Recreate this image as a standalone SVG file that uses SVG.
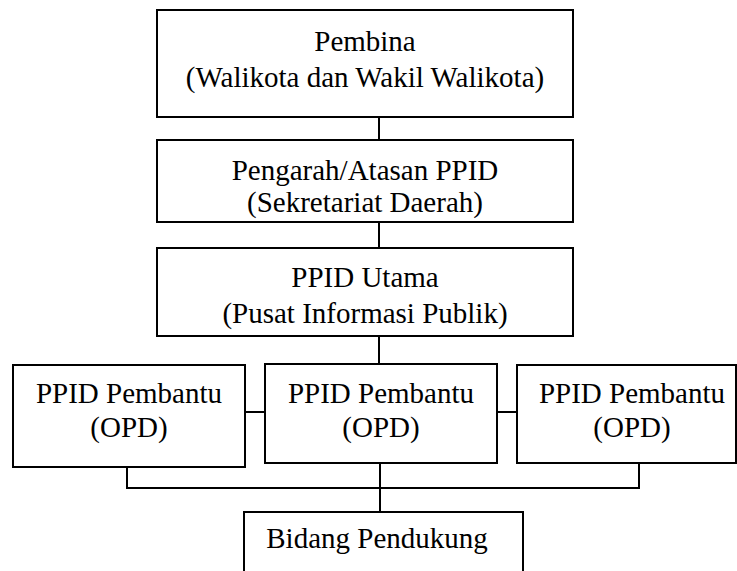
<svg xmlns="http://www.w3.org/2000/svg" width="737" height="571" viewBox="0 0 737 571">
<rect width="737" height="571" fill="#fff"/>
<g id="connectors" fill="none" stroke="#000" stroke-width="2">
<line x1="379" y1="117" x2="379" y2="140"/>
<line x1="379" y1="222" x2="379" y2="248"/>
<line x1="379" y1="336" x2="379" y2="364"/>
<line x1="245" y1="412" x2="265" y2="412"/>
<line x1="497" y1="412" x2="517" y2="412"/>
<polyline points="127,467 127,488 639,488 639,463"/>
<line x1="380" y1="463" x2="380" y2="512"/>
</g>
<g font-family="Liberation Serif" font-size="29" text-anchor="middle">
<g id="pembina">
<rect x="157" y="10" width="416" height="107" fill="#fff" stroke="#000" stroke-width="2"/>
<text x="365" y="51">Pembina</text>
<text x="365" y="87">(Walikota dan Wakil Walikota)</text>
</g>
<g id="pengarah">
<rect x="157" y="140" width="416" height="82" fill="#fff" stroke="#000" stroke-width="2"/>
<text x="365" y="180">Pengarah/Atasan PPID</text>
<text x="365" y="212">(Sekretariat Daerah)</text>
</g>
<g id="ppid-utama">
<rect x="157" y="248" width="416" height="88" fill="#fff" stroke="#000" stroke-width="2"/>
<text x="365" y="287">PPID Utama</text>
<text x="365" y="323">(Pusat Informasi Publik)</text>
</g>
<g id="pembantu-1">
<rect x="13" y="365" width="232" height="102" fill="#fff" stroke="#000" stroke-width="2"/>
<text x="129" y="403">PPID Pembantu</text>
<text x="129" y="437">(OPD)</text>
</g>
<g id="pembantu-2">
<rect x="265" y="364" width="232" height="99" fill="#fff" stroke="#000" stroke-width="2"/>
<text x="381" y="403">PPID Pembantu</text>
<text x="381" y="437">(OPD)</text>
</g>
<g id="pembantu-3">
<rect x="517" y="365" width="219" height="98" fill="#fff" stroke="#000" stroke-width="2"/>
<text x="632" y="403">PPID Pembantu</text>
<text x="632" y="437">(OPD)</text>
</g>
<g id="bidang-pendukung">
<path d="M244,575 V512 H523 V575" fill="none" stroke="#000" stroke-width="2"/>
<text x="377" y="548">Bidang Pendukung</text>
</g>
</g>
</svg>
